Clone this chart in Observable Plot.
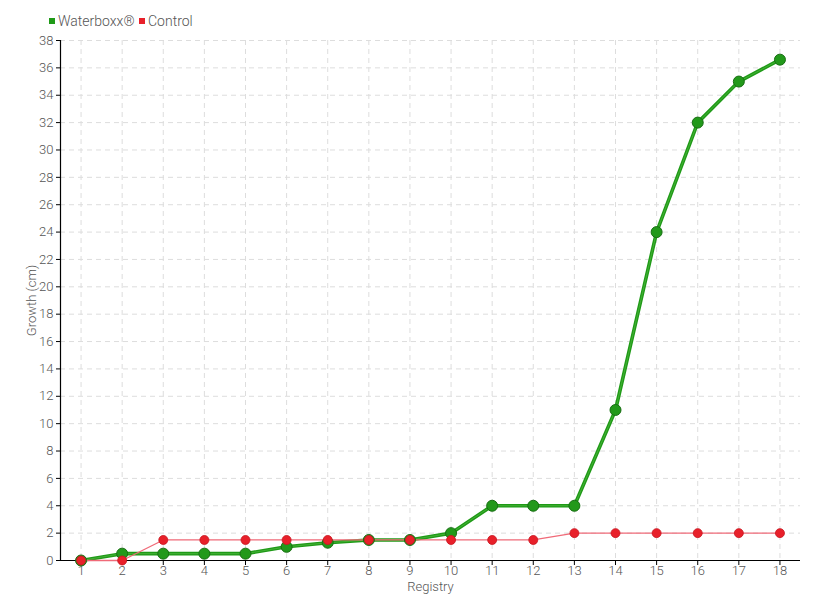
<!DOCTYPE html>
<html>
<head>
<meta charset="utf-8">
<script src="https://cdn.jsdelivr.net/npm/d3@7"></script>
<script src="https://cdn.jsdelivr.net/npm/@observablehq/plot@0.6"></script>
<style>
  body { margin: 0; background: #fff; font-family: Roboto, "DejaVu Sans Condensed", sans-serif; font-weight: 300; }
  #legend { height: 32px; position: relative; font-size: 14px; color: #555; }
  #legend span.item { position: absolute; top: 13px; }
  #legend i { display: inline-block; width: 6px; height: 6px; margin-right: 3px; vertical-align: 2px; }
</style>
</head>
<body>
<div id="legend">
  <span class="item" style="left:49px"><i style="background:#1f9a17"></i>Waterboxx®</span>
  <span class="item" style="left:139px"><i style="background:#e8202a"></i>Control</span>
</div>
<div id="chart"></div>
<script>
const registry = [1,2,3,4,5,6,7,8,9,10,11,12,13,14,15,16,17,18];
const waterboxx = [0,0.5,0.5,0.5,0.5,1.0,1.3,1.5,1.5,2.0,4,4,4,11,24,32,35,36.6];
const control = [0,0,1.5,1.5,1.5,1.5,1.5,1.5,1.5,1.5,1.5,1.5,2,2,2,2,2,2];
const yTicks = d3.range(0, 39, 2);

const wData = registry.map((r, i) => ({x: r, y: waterboxx[i]}));
const cData = registry.map((r, i) => ({x: r, y: control[i]}));

const chart = Plot.plot({
  width: 820,
  height: 568,
  marginLeft: 60,
  marginRight: 20,
  marginTop: 8,
  marginBottom: 40,
  style: {fontFamily: 'Roboto, "DejaVu Sans Condensed", sans-serif', fontWeight: 300, fontSize: "13px", color: "#555"},
  x: {domain: [0.5, 18.5], ticks: registry, tickFormat: d => d, label: null},
  y: {domain: [0, 38], ticks: yTicks, label: null},
  marks: [
    Plot.gridX(registry, {stroke: "#ddd", strokeOpacity: 1, strokeDasharray: "5,4"}),
    Plot.gridY(yTicks, {stroke: "#ddd", strokeOpacity: 1, strokeDasharray: "5,4"}),
    Plot.axisX(registry, {tickSize: 5, tickPadding: 0, stroke: "#000", fill: "#555", fontSize: 13, label: null}),
    Plot.axisY(yTicks, {tickSize: 4, tickPadding: 3, stroke: "#000", fill: "#555", fontSize: 13, label: null}),
    Plot.ruleY([0], {stroke: "#000", strokeWidth: 1.2}),
    Plot.ruleX([0.5], {stroke: "#000", strokeWidth: 1.2}),
    Plot.line(wData, {x: "x", y: "y", stroke: "#1f9a17", strokeWidth: 3.6}),
    Plot.line(wData, {x: "x", y: "y", stroke: "#5cc04a", strokeWidth: 1, strokeOpacity: 0.6}),
    Plot.line(cData, {x: "x", y: "y", stroke: "#f06a78", strokeWidth: 1.3}),
    Plot.dot(wData, {x: "x", y: "y", r: 5.5, fill: "#22991a", stroke: "#176e12", strokeWidth: 1}),
    Plot.dot(cData, {x: "x", y: "y", r: 4.5, fill: "#e8202a", stroke: "#c81520", strokeWidth: 0.8}),
    Plot.text(["Registry"], {frameAnchor: "bottom", dy: 30, fill: "#555", fontSize: 13}),
    Plot.text(["Growth (cm)"], {frameAnchor: "left", textAnchor: "middle", dx: -29, rotate: -90, fill: "#555", fontSize: 13})
  ]
});
document.getElementById("chart").appendChild(chart);
</script>
</body>
</html>
